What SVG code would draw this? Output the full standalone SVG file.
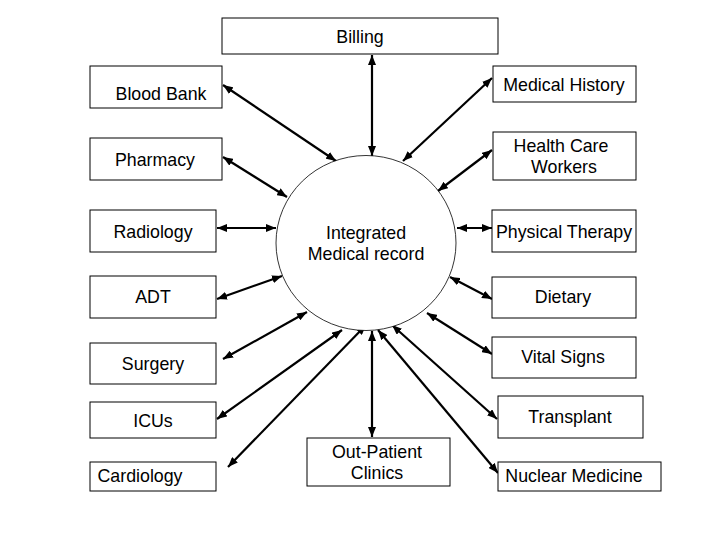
<svg xmlns="http://www.w3.org/2000/svg" width="720" height="540" viewBox="0 0 720 540">
<style>
  .box { fill: #ffffff; stroke: #000000; stroke-width: 1; }
  .hub { fill: #ffffff; stroke: #000000; stroke-width: 0.8; }
  .lbl { font-family: "Liberation Sans", Arial, sans-serif; font-size: 17.8px; fill: #000000; text-anchor: middle; }
  .conn { stroke: #000000; stroke-width: 2.2; fill: none; marker-start: url(#ah); marker-end: url(#ah); }
</style>
<defs>
  <marker id="ah" viewBox="0 0 10 8" refX="10" refY="4" markerWidth="10" markerHeight="8" markerUnits="userSpaceOnUse" orient="auto-start-reverse">
    <path d="M0,0 L10,4 L0,8 z" fill="#000000"/>
  </marker>
</defs>
<rect width="720" height="540" fill="#ffffff"/>

<g id="connectors">
  <line class="conn" x1="372" y1="55" x2="372" y2="156"/>
  <line class="conn" x1="223" y1="85" x2="336" y2="161"/>
  <line class="conn" x1="223" y1="157" x2="287" y2="197"/>
  <line class="conn" x1="492" y1="78" x2="403" y2="161"/>
  <line class="conn" x1="492" y1="150" x2="438" y2="191"/>
  <line class="conn" x1="217" y1="228" x2="276" y2="228"/>
  <line class="conn" x1="217" y1="299" x2="282" y2="276"/>
  <line class="conn" x1="223" y1="359" x2="307" y2="312"/>
  <line class="conn" x1="217" y1="419" x2="342" y2="330"/>
  <line class="conn" x1="228" y1="467" x2="366" y2="325"/>
  <line class="conn" x1="372" y1="331" x2="372" y2="437"/>
  <line class="conn" x1="378" y1="330" x2="498" y2="473"/>
  <line class="conn" x1="392" y1="325" x2="497" y2="419"/>
  <line class="conn" x1="427" y1="313" x2="492" y2="354"/>
  <line class="conn" x1="450" y1="277" x2="492" y2="299"/>
  <line class="conn" x1="457" y1="228" x2="492" y2="228"/>
</g>

<g id="hub">
  <ellipse class="hub" cx="366" cy="243" rx="90" ry="87.5"/>
  <text class="lbl" x="366" y="239">Integrated</text>
  <text class="lbl" x="366" y="260">Medical record</text>
</g>

<g id="billing">
  <rect class="box" x="222" y="18" width="276" height="36"/>
  <text class="lbl" x="360" y="43">Billing</text>
</g>
<g id="blood-bank">
  <rect class="box" x="90" y="66" width="132" height="42"/>
  <text class="lbl" x="161" y="100">Blood Bank</text>
</g>
<g id="pharmacy">
  <rect class="box" x="90" y="138" width="132" height="42"/>
  <text class="lbl" x="155" y="166">Pharmacy</text>
</g>
<g id="radiology">
  <rect class="box" x="90" y="210" width="126" height="42"/>
  <text class="lbl" x="153" y="238">Radiology</text>
</g>
<g id="adt">
  <rect class="box" x="90" y="276" width="126" height="42"/>
  <text class="lbl" x="153" y="303">ADT</text>
</g>
<g id="surgery">
  <rect class="box" x="90" y="343" width="126" height="41"/>
  <text class="lbl" x="153" y="370">Surgery</text>
</g>
<g id="icus">
  <rect class="box" x="90" y="402" width="126" height="36"/>
  <text class="lbl" x="153" y="427">ICUs</text>
</g>
<g id="cardiology">
  <rect class="box" x="90" y="462" width="126" height="29"/>
  <text class="lbl" x="140" y="482">Cardiology</text>
</g>
<g id="out-patient">
  <rect class="box" x="307" y="438" width="143" height="48"/>
  <text class="lbl" x="377" y="458">Out-Patient</text>
  <text class="lbl" x="377" y="479">Clinics</text>
</g>
<g id="medical-history">
  <rect class="box" x="493" y="66" width="143" height="36"/>
  <text class="lbl" x="564" y="91">Medical History</text>
</g>
<g id="health-care-workers">
  <rect class="box" x="493" y="132" width="143" height="48"/>
  <text class="lbl" x="561" y="152">Health Care</text>
  <text class="lbl" x="564" y="173">Workers</text>
</g>
<g id="physical-therapy">
  <rect class="box" x="492" y="210" width="144" height="42"/>
  <text class="lbl" x="564" y="238">Physical Therapy</text>
</g>
<g id="dietary">
  <rect class="box" x="492" y="277" width="144" height="41"/>
  <text class="lbl" x="563" y="303">Dietary</text>
</g>
<g id="vital-signs">
  <rect class="box" x="492" y="337" width="144" height="41"/>
  <text class="lbl" x="563" y="363">Vital Signs</text>
</g>
<g id="transplant">
  <rect class="box" x="498" y="396" width="145" height="42"/>
  <text class="lbl" x="570" y="423">Transplant</text>
</g>
<g id="nuclear-medicine">
  <rect class="box" x="498" y="462" width="163" height="29"/>
  <text class="lbl" x="574" y="482">Nuclear Medicine</text>
</g>
</svg>
